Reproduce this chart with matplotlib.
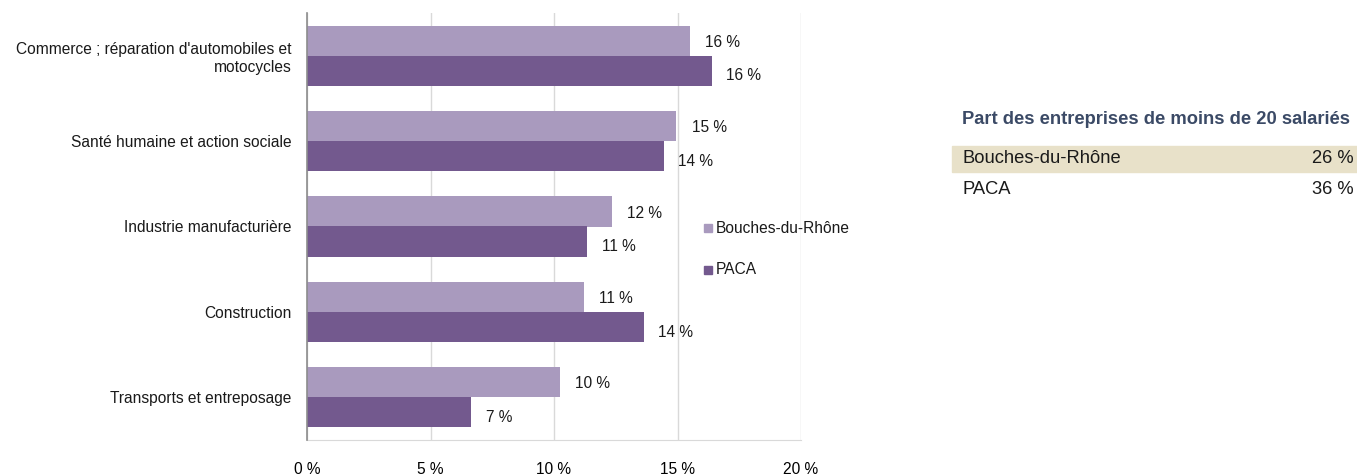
import matplotlib.pyplot as plt
from matplotlib.patches import Rectangle

plt.rcParams["font.family"] = ["Liberation Sans", "DejaVu Sans"]

categories = [
    "Commerce ; réparation d'automobiles et\nmotocycles",
    "Santé humaine et action sociale",
    "Industrie manufacturière",
    "Construction",
    "Transports et entreposage",
]
bdr = [15.5, 14.95, 12.35, 11.2, 10.25]
paca = [16.4, 14.45, 11.35, 13.65, 6.65]
bdr_labels = ["16 %", "15 %", "12 %", "11 %", "10 %"]
paca_labels = ["16 %", "14 %", "11 %", "14 %", "7 %"]
series_names = ["Bouches-du-Rhône", "PACA"]

table_title = "Part des entreprises de moins de 20 salariés"
table_rows = ["Bouches-du-Rhône", "PACA"]
table_values = ["26 %", "36 %"]

C_BDR = "#A99ABE"
C_PACA = "#73598E"
FS = 11.2

W, H = 1357, 476
fig = plt.figure(figsize=(W / 100, H / 100), dpi=100)
# axes in pixel coords: x 307..801, y 13..440
ax = fig.add_axes([307 / W, 1 - 440 / H, (801 - 307) / W, (440 - 13) / H])

n = len(categories)
ys = list(range(n))
bh = 30 / 85
for i in ys:
    ax.barh(i - bh / 2, bdr[i], height=bh, color=C_BDR, zorder=2)
    ax.barh(i + bh / 2, paca[i], height=bh, color=C_PACA, zorder=2)
    ax.text(bdr[i] + 0.62, i - bh / 2 + 0.02, bdr_labels[i], va="center", ha="left", fontsize=FS, color="#1a1a1a")
    ax.text(paca[i] + 0.58, i + bh / 2 + 0.06, paca_labels[i], va="center", ha="left", fontsize=FS, color="#1a1a1a")

ax.set_ylim(n - 0.5, -0.5)
ax.set_xlim(0, 20)
ax.set_xticks([0, 5, 10, 15, 20])
ax.set_xticklabels(["0 %", "5 %", "10 %", "15 %", "20 %"])
ax.set_yticks(ys)
ax.set_yticklabels(categories, fontsize=FS, color="#1a1a1a", linespacing=1.25)
ax.tick_params(axis="both", length=0, labelsize=FS)
ax.tick_params(axis="x", pad=15.5)
ax.tick_params(axis="y", pad=11)
ax.grid(axis="x", color="#D9D9D9", linewidth=1, zorder=0)
for s in ["top", "right"]:
    ax.spines[s].set_visible(False)
ax.spines["left"].set_color("#8C8C8C")
ax.spines["left"].set_linewidth(1.2)
ax.spines["bottom"].set_color("#D9D9D9")
ax.spines["left"].set_zorder(3)

# legend
for k, (name, col) in enumerate(zip(series_names, [C_BDR, C_PACA])):
    yp = 228 + 42 * k
    fig.patches.append(Rectangle((704 / W, 1 - (yp + 4) / H), 8 / W, 8 / H, transform=fig.transFigure, color=col))
    fig.text(716 / W, 1 - yp / H, name, fontsize=FS, va="center", ha="left", color="#1a1a1a")

# side table
fig.text(962 / W, 1 - 119 / H, table_title, fontsize=13.2, fontweight="bold", color="#3B4A66", va="center", ha="left")
fig.patches.append(Rectangle((952 / W, 1 - 172 / H), (W - 952) / W, 26 / H, transform=fig.transFigure, color="#E8E1C9"))
for k, (lab, val) in enumerate(zip(table_rows, table_values)):
    yp = 159 + 31 * k
    fig.text(962 / W, 1 - yp / H, lab, fontsize=13.2, va="center", ha="left", color="#1a1a1a")
    fig.text(1354 / W, 1 - yp / H, val, fontsize=13.2, va="center", ha="right", color="#1a1a1a")

fig.savefig("out.png", dpi=100)
